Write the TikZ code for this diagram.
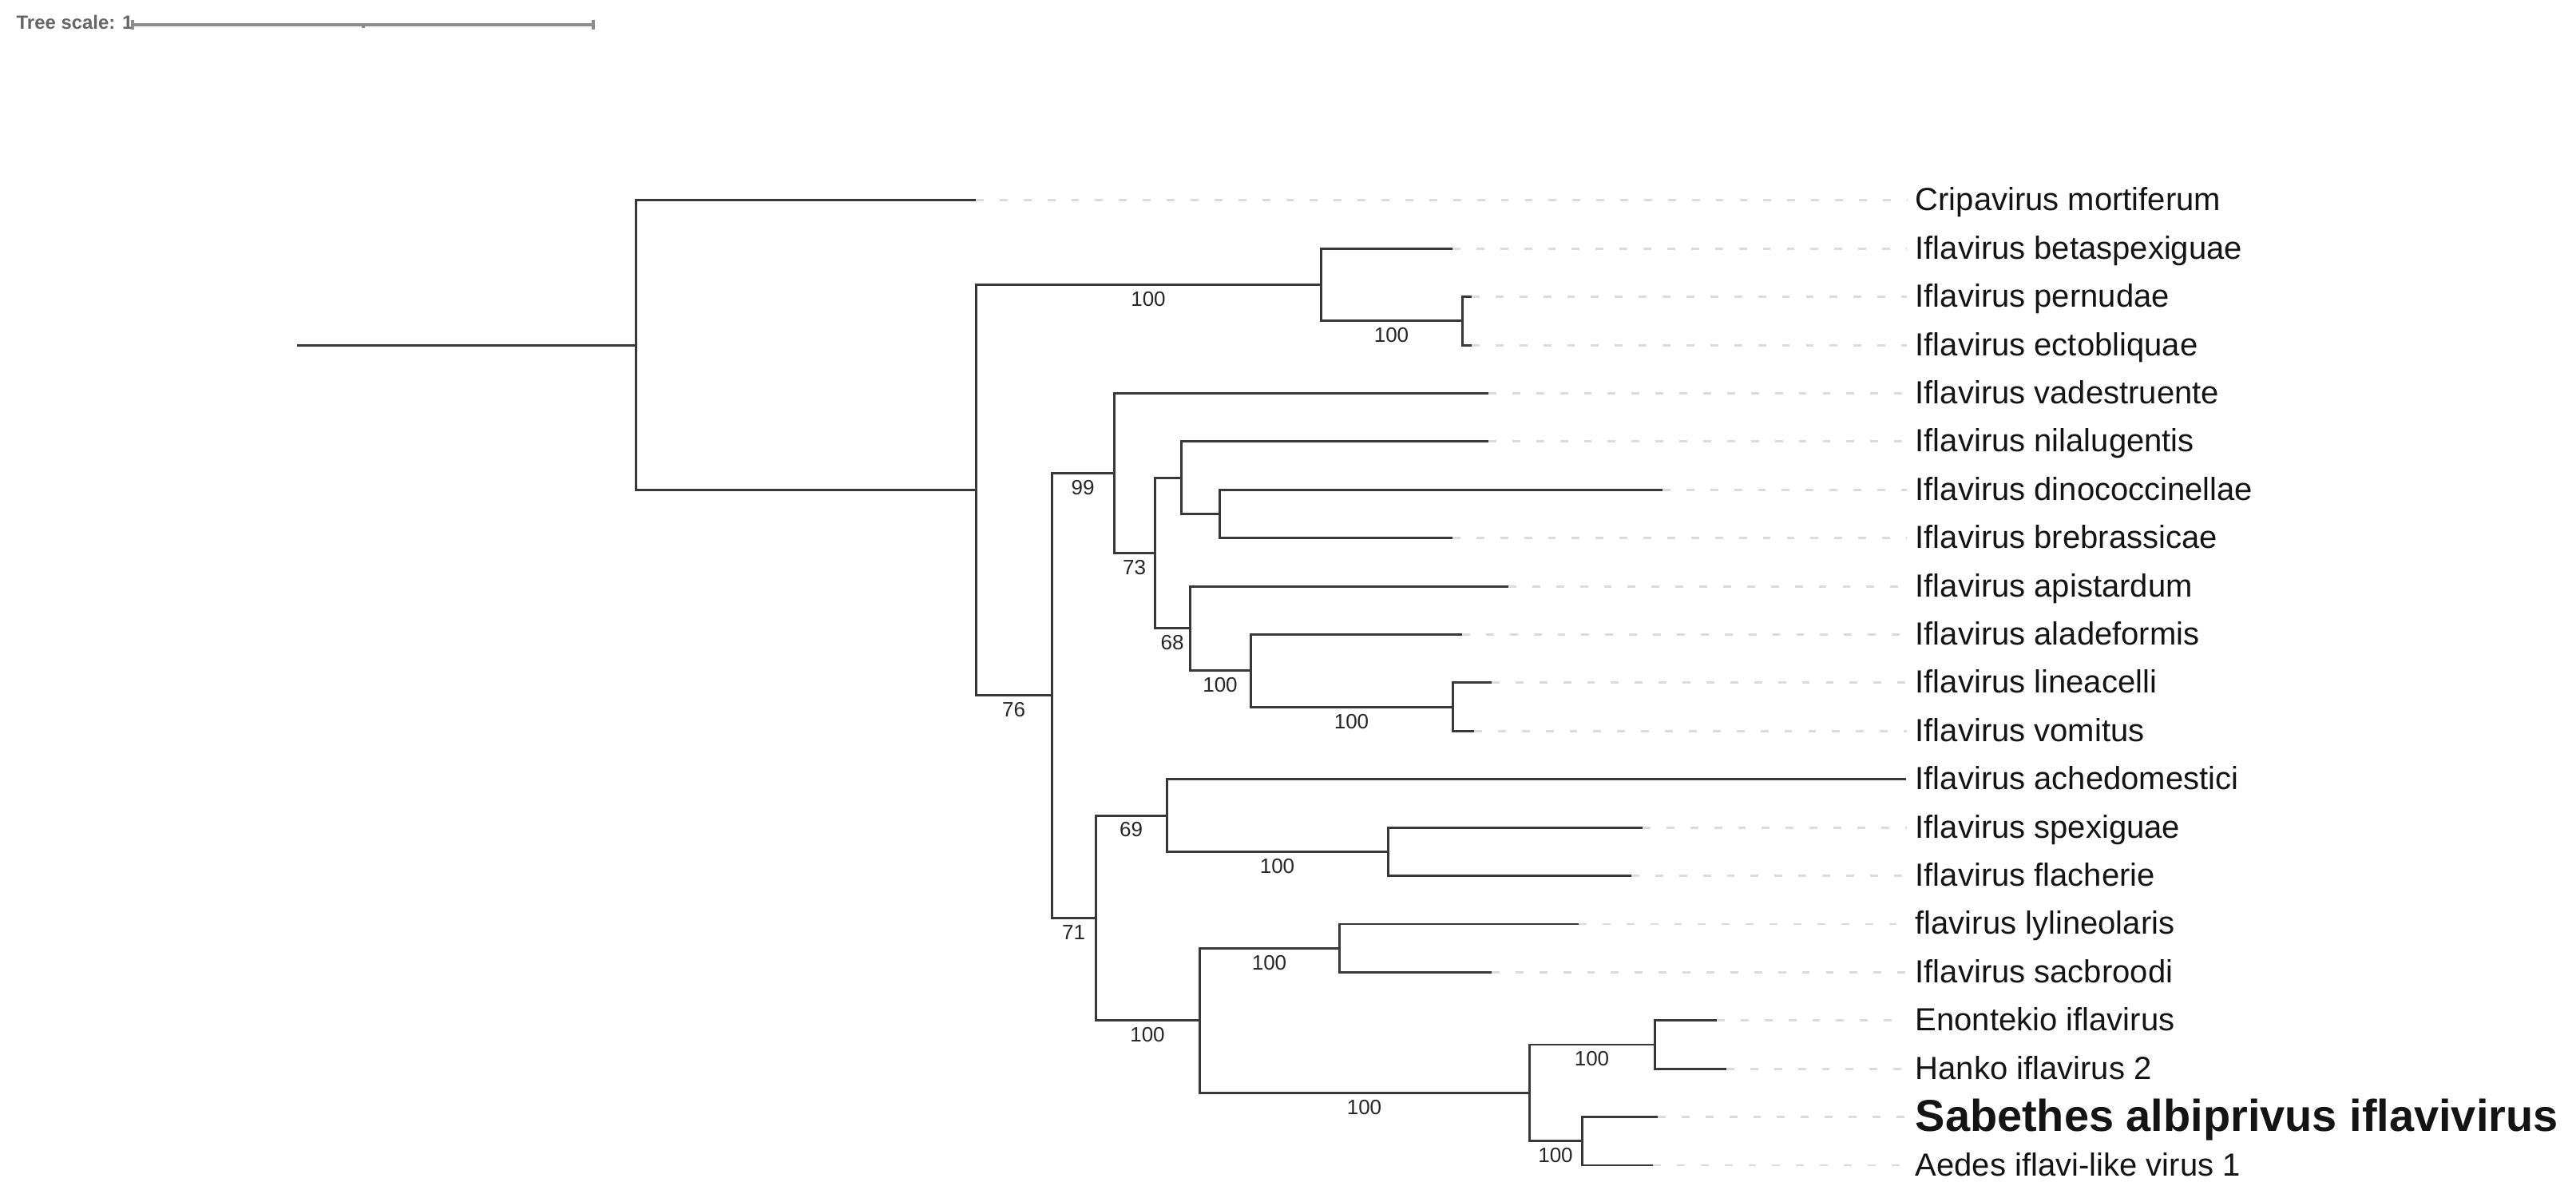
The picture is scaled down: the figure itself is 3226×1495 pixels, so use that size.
\documentclass[tikz,border=0pt]{standalone}
\usepackage{fontspec}
\setmainfont{Liberation Sans}
\usetikzlibrary{calc}
\begin{document}
\begin{tikzpicture}[x=0.01cm,y=-0.01cm,
  br/.style={draw=black!78, line width=0.85pt},
  leader/.style={draw=black!14, line width=0.85pt, dash pattern=on 2.8pt off 5.7pt, shorten >=0.1cm},
  leaf/.style={anchor=base west, inner sep=0pt, font=\fontsize{11.38pt}{13pt}\selectfont, text=black!92},
  boot/.style={anchor=north, inner sep=0pt, font=\fontsize{7.4pt}{8pt}\selectfont, text=black!85},
  scalebar/.style={draw=black!45, line width=0.9pt},
]
\useasboundingbox (0,0) rectangle (3226,1495);

% tree scale
\node[anchor=base west, inner sep=0pt, font=\bfseries\fontsize{6.8pt}{7pt}\selectfont, text=black!60] (ts) at (20,37) {Tree scale: 1};
\coordinate (sb1) at (166,31);
\coordinate (sbm) at (455,31);
\coordinate (sb2) at (743,31);
\draw[scalebar] (sb1) -- (sb2);
\draw[scalebar] ([yshift=0.06cm]sb1) -- ([yshift=-0.06cm]sb1);
\draw[scalebar] ([yshift=0.06cm]sb2) -- ([yshift=-0.06cm]sb2);
\draw[scalebar] (sbm) -- ([yshift=-0.04cm]sbm);

% leaf tips
\coordinate (l0) at (1222,251.0);
\coordinate (l1) at (1819,311.4);
\coordinate (l2) at (1843,371.8);
\coordinate (l3) at (1843,432.2);
\coordinate (l4) at (1864,492.6);
\coordinate (l5) at (1864,553.0);
\coordinate (l6) at (2082,613.4);
\coordinate (l7) at (1819,673.8);
\coordinate (l8) at (1889,734.2);
\coordinate (l9) at (1831,794.6);
\coordinate (l10) at (1868,855.0);
\coordinate (l11) at (1846,915.4);
\coordinate (l12) at (2387,975.8);
\coordinate (l13) at (2057,1036.2);
\coordinate (l14) at (2043,1096.6);
\coordinate (l15) at (1977,1157.0);
\coordinate (l16) at (1868,1217.4);
\coordinate (l17) at (2150,1277.8);
\coordinate (l18) at (2162,1338.2);
\coordinate (l19) at (2076,1398.6);
\coordinate (l20) at (2070,1459.0);

% internal nodes
\coordinate (root) at (372,432.4);
\coordinate (A) at (796,432.4);
\coordinate (B) at (1222,613.9);
\coordinate (C) at (1654,356.7);
\coordinate (D) at (1831,402.0);
\coordinate (E) at (1317,871.0);
\coordinate (F) at (1395,592.6);
\coordinate (G) at (1446,692.7);
\coordinate (H) at (1479,598.3);
\coordinate (I) at (1527,643.6);
\coordinate (J) at (1490,787.0);
\coordinate (K) at (1566,839.9);
\coordinate (L) at (1819,885.2);
\coordinate (M) at (1372,1149.5);
\coordinate (N) at (1461,1021.1);
\coordinate (O) at (1738,1066.4);
\coordinate (P) at (1502,1277.8);
\coordinate (Q) at (1677,1187.2);
\coordinate (R) at (1915,1368.4);
\coordinate (S) at (2072,1308.0);
\coordinate (T) at (1981,1428.8);

% branches
\draw[br] (root) -- (A);
\foreach \p/\a/\b in {A/l0/B, B/C/E, C/l1/D, D/l2/l3, E/F/M, F/l4/G, G/H/J,
  H/l5/I, I/l6/l7, J/l8/K, K/l9/L, L/l10/l11, M/N/P, N/l12/O, O/l13/l14,
  P/Q/R, Q/l15/l16, R/S/T, S/l17/l18, T/l19/l20}
  {\draw[br] (\a) -| (\p) |- (\b);}

% bootstrap values
\foreach \p/\c/\v in {B/C/100, C/D/100, B/E/76, E/F/99, F/G/73, G/J/68, J/K/100,
  K/L/100, E/M/71, M/N/69, N/O/100, M/P/100, P/Q/100, P/R/100, R/S/100, R/T/100}
  {\node[boot] (b\c) at ($(\p |- \c)!0.5!(\c) + (0,8)$) {\v};}

% leaf labels
\node[leaf] (t0) at (2398,264.0) {Cripavirus mortiferum};
\node[leaf] (t1) at (2398,324.4) {Iflavirus betaspexiguae};
\node[leaf] (t2) at (2398,384.8) {Iflavirus pernudae};
\node[leaf] (t3) at (2398,445.2) {Iflavirus ectobliquae};
\node[leaf] (t4) at (2398,505.6) {Iflavirus vadestruente};
\node[leaf] (t5) at (2398,566.0) {Iflavirus nilalugentis};
\node[leaf] (t6) at (2398,626.4) {Iflavirus dinococcinellae};
\node[leaf] (t7) at (2398,686.8) {Iflavirus brebrassicae};
\node[leaf] (t8) at (2398,747.2) {Iflavirus apistardum};
\node[leaf] (t9) at (2398,807.6) {Iflavirus aladeformis};
\node[leaf] (t10) at (2398,868.0) {Iflavirus lineacelli};
\node[leaf] (t11) at (2398,928.4) {Iflavirus vomitus};
\node[leaf] (t12) at (2398,988.8) {Iflavirus achedomestici};
\node[leaf] (t13) at (2398,1049.2) {Iflavirus spexiguae};
\node[leaf] (t14) at (2398,1109.6) {Iflavirus flacherie};
\node[leaf] (t15) at (2398,1170.0) {flavirus lylineolaris};
\node[leaf] (t16) at (2398,1230.4) {Iflavirus sacbroodi};
\node[leaf] (t17) at (2398,1290.8) {Enontekio iflavirus};
\node[leaf] (t18) at (2398,1351.2) {Hanko iflavirus 2};
\node[leaf, font=\bfseries\fontsize{15.9pt}{17pt}\selectfont] (t19) at (2398,1416.6) {Sabethes albiprivus iflavivirus};
\node[leaf] (t20) at (2398,1472.0) {Aedes iflavi-like virus 1};

% dashed leaders
\foreach \i in {0,1,2,3,4,5,6,7,8,9,10,11,13,14,15,16,17,18,19,20}
  {\draw[leader] (l\i) -- (l\i -| t\i.west);}
\end{tikzpicture}
\end{document}
